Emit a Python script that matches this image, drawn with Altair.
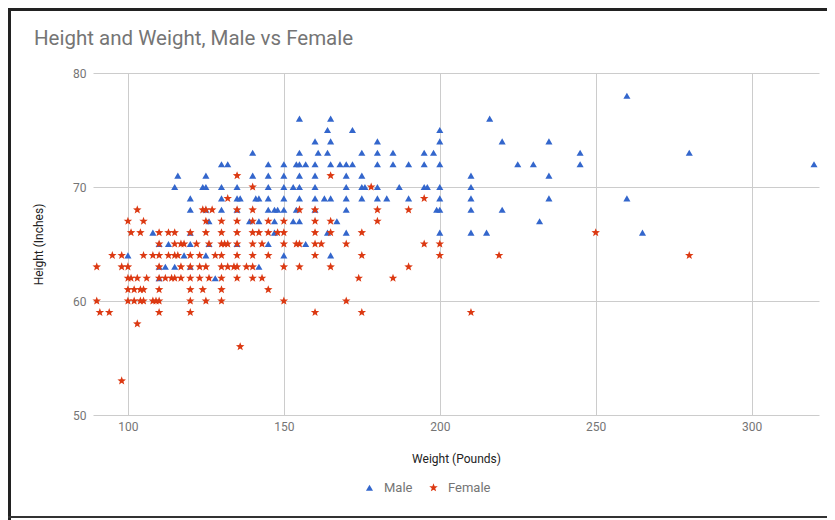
import altair as alt
import pandas as pd

# ---- data: weights (pounds) read for each height row (inches) ----
male_78 = [260]
male_76 = [155, 165, 216]
male_75 = [164, 172, 200]
male_74 = [160, 165, 180, 200, 220, 235]
male_73 = [140, 155, 161, 164, 175, 180, 185, 195, 198, 245, 280]
male_72 = [130, 132, 145, 150, 154, 155, 157, 160, 165, 168, 170, 172, 180, 185,
           190, 195, 200, 225, 230, 245, 320]
male_71 = [116, 125, 140, 145, 150, 155, 160, 170, 175, 210, 235]
male_70 = [115, 124, 125, 130, 135, 145, 150, 153, 155, 160, 170, 175, 176, 180,
           187, 195, 196, 200, 210]
male_69 = [120, 130, 135, 136, 141, 142, 145, 150, 155, 160, 163, 165, 170, 175,
           180, 183, 190, 200, 210, 235, 260]
male_68 = [120, 125, 130, 135, 145, 147, 148, 150, 154, 160, 170, 199, 200, 210, 220]
male_67 = [126, 139, 142, 147, 153, 155, 167, 232]
male_66 = [108, 120, 147, 164, 170, 200, 210, 215, 265]
male_65 = [110, 113, 120, 126, 135, 145, 157]
male_64 = [100, 118, 125, 150, 165]
male_63 = [110, 112, 115, 120, 142]
male_62 = [110, 128]

female_71 = [135, 165]
female_70 = [140, 178]
female_69 = [132, 195]
female_68 = [103, 124, 125, 127, 135, 140, 155, 160, 180, 190]
female_67 = [100, 105, 125, 130, 135, 140, 145, 150, 160, 165, 180]
female_66 = [101, 104, 110, 113, 115, 120, 125, 130, 135, 140, 142, 145, 148, 150,
             160, 165, 175, 250]
female_65 = [110, 115, 117, 118, 122, 126, 130, 131, 132, 135, 140, 143, 150, 154,
             155, 160, 162, 170, 195, 200]
female_64 = [95, 98, 105, 108, 110, 113, 115, 116, 120, 123, 128, 130, 135, 140,
             145, 160, 175, 200, 219, 280]
female_63 = [90, 98, 100, 110, 117, 120, 123, 125, 130, 132, 134, 135, 138, 140,
             150, 155, 165, 190]
female_62 = [100, 101, 103, 106, 110, 112, 114, 115, 117, 120, 123, 126, 130, 135,
             140, 143, 174, 185]
female_61 = [100, 102, 104, 105, 110, 120, 124, 130, 145]
female_60 = [90, 100, 102, 104, 105, 108, 109, 110, 120, 125, 130, 150, 170]
female_59 = [91, 94, 110, 120, 160, 175, 210]
female_58 = [103]
female_56 = [136]
female_53 = [98]

series_names = ["Male", "Female"]
series_colors = ["#3366CC", "#DC3912"]
STAR = ("M0,-1L0.247,-0.34L0.951,-0.309L0.399,0.13L0.588,0.809L0,0.42"
        "L-0.588,0.809L-0.399,0.13L-0.951,-0.309L-0.247,-0.34Z")
series_shapes = ["triangle-up", STAR]
x_ticks = [100, 150, 200, 250, 300]
y_ticks = [50, 60, 70, 80]
chart_title = "Height and Weight, Male vs Female"

male_rows = {78: male_78, 76: male_76, 75: male_75, 74: male_74, 73: male_73,
             72: male_72, 71: male_71, 70: male_70, 69: male_69, 68: male_68,
             67: male_67, 66: male_66, 65: male_65, 64: male_64, 63: male_63,
             62: male_62}
female_rows = {71: female_71, 70: female_70, 69: female_69, 68: female_68,
               67: female_67, 66: female_66, 65: female_65, 64: female_64,
               63: female_63, 62: female_62, 61: female_61, 60: female_60,
               59: female_59, 58: female_58, 56: female_56, 53: female_53}

records = []
for name, rows in (("Male", male_rows), ("Female", female_rows)):
    for h, ws in rows.items():
        for w in ws:
            records.append({"sex": name, "weight": w, "height": h})
df = pd.DataFrame(records)

W, H = 726, 342
PL, PT, PR, PB = 85, 65, 8, 105
FONT = "Roboto"

points = alt.Chart(df).mark_point(filled=True, opacity=1, strokeWidth=0).encode(
    x=alt.X("weight:Q",
            scale=alt.Scale(domain=[88.8, 321.6], nice=False, zero=False),
            axis=alt.Axis(values=x_ticks, title="Weight (Pounds)", grid=True,
                          gridColor="#cccccc", domain=False, ticks=False,
                          labelPadding=6, labelFontSize=12, labelColor="#757575",
                          labelFont=FONT, titleFont=FONT, titleFontSize=12,
                          titleColor="#222222", titleFontWeight="normal",
                          titlePadding=21)),
    y=alt.Y("height:Q",
            scale=alt.Scale(domain=[50, 80], nice=False, zero=False),
            axis=alt.Axis(values=y_ticks, title="Height (Inches)", grid=True,
                          gridColor="#cccccc", domain=False, ticks=False,
                          labelPadding=7, labelFontSize=12, labelColor="#757575",
                          labelFont=FONT, titleFont=FONT, titleFontSize=12,
                          titleColor="#222222", titleFontWeight="normal",
                          titlePadding=27)),
    color=alt.Color("sex:N",
                    scale=alt.Scale(domain=series_names, range=series_colors),
                    legend=alt.Legend(title=None, orient="none", direction="horizontal",
                                      legendX=270, legendY=408,
                                      labelFont=FONT, labelFontSize=13,
                                      labelColor="#757575", symbolSize=90,
                                      columnPadding=14, labelOffset=8)),
    shape=alt.Shape("sex:N",
                    scale=alt.Scale(domain=series_names, range=series_shapes)),
    size=alt.Size("sex:N", scale=alt.Scale(domain=series_names, range=[50, 80]),
                  legend=None),
    order=alt.Order("order:Q"),
).transform_calculate(order="datum.sex === 'Male' ? 0 : 1")

frame_data = alt.Data(values=[{}])
title_mark = alt.Chart(frame_data).mark_text(
    align="left", baseline="alphabetic", font=FONT, fontSize=20.5,
    color="#757575").encode(
    x=alt.value(-59), y=alt.value(-28), text=alt.value(chart_title))
frame_top = alt.Chart(frame_data).mark_rule(color="#222222", strokeWidth=3).encode(
    x=alt.value(-PL), x2=alt.value(W + PR), y=alt.value(-PT + 1.5))
frame_left = alt.Chart(frame_data).mark_rule(color="#222222", strokeWidth=3).encode(
    x=alt.value(-PL + 1.5), y=alt.value(-PT), y2=alt.value(H + PB))
frame_bottom = alt.Chart(frame_data).mark_rule(color="#333333", strokeWidth=2).encode(
    x=alt.value(-PL), x2=alt.value(W + PR), y=alt.value(H + PB - 3))

chart = alt.layer(points, title_mark, frame_top, frame_left, frame_bottom).properties(
    width=W, height=H,
    autosize=alt.AutoSizeParams(type="none"),
    padding={"left": PL, "top": PT, "right": PR, "bottom": PB},
).configure_view(stroke="transparent")

chart.save("out.html", embed_options={"renderer": "svg", "actions": False})
